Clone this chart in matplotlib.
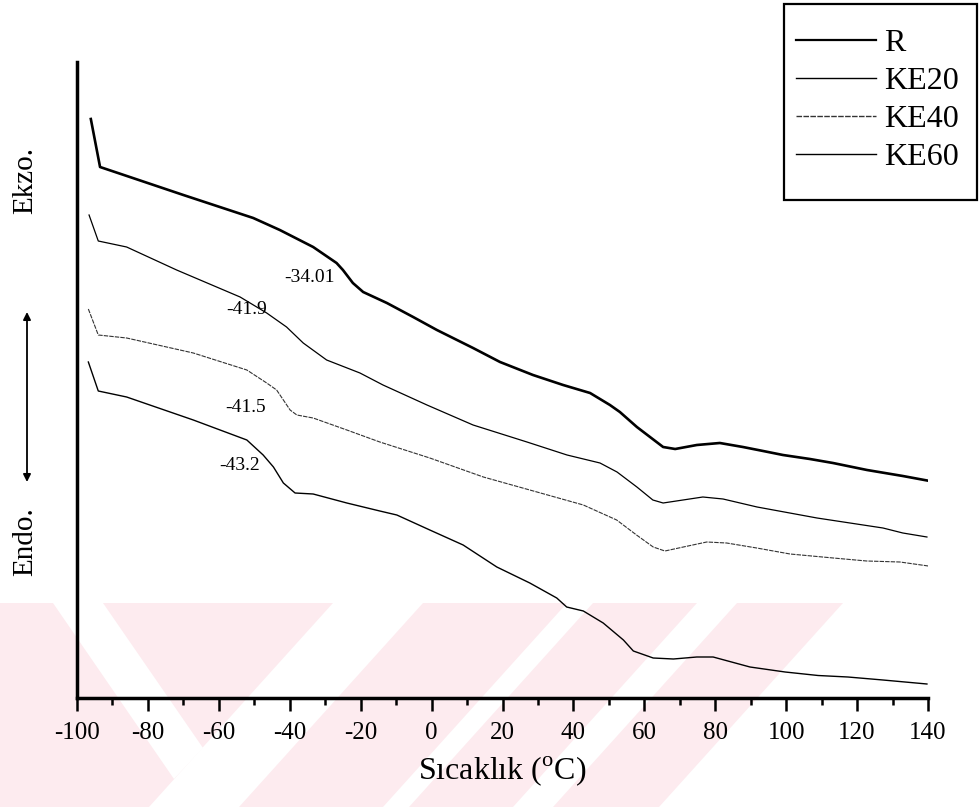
import matplotlib
matplotlib.use("Agg")
import matplotlib.pyplot as plt
from matplotlib.patches import Polygon, Rectangle

plt.rcParams["font.family"] = ["Liberation Serif", "DejaVu Serif"]
plt.rcParams["mathtext.fontset"] = "custom"
plt.rcParams["mathtext.rm"] = "Liberation Serif"
plt.rcParams["axes.unicode_minus"] = False

# DSC heat-flow traces (arbitrary units) versus temperature (°C)
t_r = [-96.1, -93.5, -85.1, -70.0, -50.3, -42.8, -33.4, -26.8, -25.0, -22.2, -19.3,
       -12.6, -5.2, 1.5, 11.7, 19.3, 28.6, 37.1, 44.7, 50.3, 53.1, 57.9, 61.6, 65.3,
       68.7, 74.8, 81.3, 87.8, 93.5, 99.1, 106.7, 113.2, 122.8, 132.9, 140.5]
q_r = [579, 531, 521, 503, 480, 468, 451, 435, 428, 415, 406,
       395, 381, 368, 350, 336, 323, 313, 305, 293, 286, 271, 261, 251,
       249, 253, 255, 251, 247, 243, 239, 235, 228, 222, 217]

t_ke20 = [-96.6, -94.0, -86.0, -71.9, -54.0, -46.5, -40.9, -36.2, -29.6, -20.2, -13.7,
          -1.3, 11.7, 26.9, 38.2, 47.5, 52.3, 57.9, 62.4, 65.3, 70.9, 76.5, 82.2,
          91.8, 108.7, 118.0, 127.3, 132.9, 139.7]
q_ke20 = [483, 457, 451, 428, 401, 385, 371, 355, 338, 325, 313,
          293, 273, 256, 243, 235, 226, 211, 198, 195, 198, 201, 199,
          191, 180, 175, 170, 165, 161]

t_ke40 = [-96.8, -94.0, -86.0, -67.2, -52.1, -46.5, -43.7, -39.9, -38.0, -33.4, -23.9,
          -14.6, -0.5, 14.6, 27.7, 42.8, 52.2, 57.8, 62.5, 65.8, 71.0, 77.6, 83.2,
          91.7, 101.1, 113.3, 122.7, 132.1, 140.1]
q_ke40 = [389, 363, 360, 345, 328, 315, 308, 288, 283, 280, 268,
          256, 240, 221, 208, 193, 178, 163, 151, 147, 151, 156, 155,
          150, 144, 140, 137, 136, 132]

t_ke60 = [-96.8, -94.0, -86.0, -67.2, -52.1, -47.5, -44.6, -41.8, -38.5, -33.4, -23.9,
          -14.6, -9.8, -0.5, 8.9, 18.4, 27.7, 35.3, 38.1, 42.8, 48.4, 54.1, 56.9,
          62.5, 68.2, 74.8, 79.4, 89.8, 99.7, 109.0, 117.4, 127.3, 139.7]
q_ke60 = [336, 307, 301, 278, 258, 243, 231, 215, 205, 204, 195,
          187, 183, 168, 153, 131, 115, 100, 91, 87, 75, 58, 47,
          40, 39, 41, 41, 31, 26, 22.5, 21, 18, 14]

# glass-transition labels: text, temperature and signal position of the label
tg_texts = ["-34.01", "-41.9", "-41.5", "-43.2"]
tg_x = [-34.3, -52.1, -52.6, -54.0]
tg_y = [420, 389, 291, 232]

series_labels = ["R", "KE20", "KE40", "KE60"]
x_ticks = list(range(-100, 141, 20))

W, H = 980, 807
fig = plt.figure(figsize=(W / 100, H / 100), dpi=100)


def px(points):
    return [(x / W, 1 - y / H) for x, y in points]


# faint background stripes
pink = "#fdebef"
fig.patches.append(Polygon(px([(0, 603), (843, 603), (659, 807), (0, 807)]),
                           closed=True, transform=fig.transFigure,
                           facecolor=pink, edgecolor="none", zorder=0))
for poly in [
    [(53, 603), (103, 603), (203, 748), (174, 779)],
    [(333, 603), (423, 603), (239, 807), (149, 807)],
    [(567, 603), (593, 603), (409, 807), (383, 807)],
    [(697, 603), (737, 603), (553, 807), (513, 807)],
]:
    fig.patches.append(Polygon(px(poly), closed=True, transform=fig.transFigure,
                               facecolor="white", edgecolor="none", zorder=0))

ax = fig.add_axes([77 / W, 109 / H, 851 / W, 636 / H])
ax.set_zorder(2)
ax.set_facecolor("none")

ax.plot(t_r, q_r, color="black", lw=1.9, label=series_labels[0])
ax.plot(t_ke20, q_ke20, color="black", lw=0.9, label=series_labels[1])
ax.plot(t_ke40, q_ke40, color="#333333", lw=0.8, ls=(0, (4, 1)), label=series_labels[2])
ax.plot(t_ke60, q_ke60, color="black", lw=1.0, label=series_labels[3])

for txt, x, y in zip(tg_texts, tg_x, tg_y):
    ax.text(x, y, txt, fontsize=14, ha="center", va="center")

ax.set_xlim(-100, 140)
ax.set_ylim(0, 636)
ax.set_xticks(x_ticks)
ax.set_xticks(range(-90, 140, 20), minor=True)
ax.set_yticks([])
ax.tick_params(axis="x", which="major", direction="out", length=9, width=1.8,
               labelsize=18, pad=8)
ax.tick_params(axis="x", which="minor", direction="out", length=5, width=1.8)
for side in ("top", "right"):
    ax.spines[side].set_visible(False)
ax.spines["left"].set_linewidth(2.5)
ax.spines["bottom"].set_linewidth(2.5)

ax.set_xlabel("Sıcaklık ($^{\\mathrm{o}}$C)", fontsize=23, labelpad=8)

fig.text(25 / W, 1 - 180 / H, "Ekzo.", rotation=90, fontsize=21,
         ha="center", va="center")
fig.text(25 / W, 1 - 542 / H, "Endo.", rotation=90, fontsize=21,
         ha="center", va="center")
ax.annotate("", xy=(27 / W, 1 - 312 / H), xytext=(27 / W, 1 - 482 / H),
            xycoords="figure fraction", textcoords="figure fraction",
            arrowprops=dict(arrowstyle="<|-|>", color="black", lw=1.3,
                            mutation_scale=11, shrinkA=0, shrinkB=0))

leg = ax.legend(loc="upper right", bbox_to_anchor=(976 / W, 1 - 11 / H),
                bbox_transform=fig.transFigure, fontsize=23, frameon=False,
                borderaxespad=0, borderpad=0.55,
                handlelength=2.5, handletextpad=0.25, labelspacing=0.27)
for line in leg.get_lines():
    line.set_linewidth(1.0)
leg.get_lines()[0].set_linewidth(1.6)

# legend frame
fig.add_artist(Rectangle((784 / W, 1 - 200 / H), 193 / W, 196 / H,
                         transform=fig.transFigure, fill=False,
                         edgecolor="black", linewidth=1.6, zorder=3))

fig.savefig("out.png", dpi=100)
